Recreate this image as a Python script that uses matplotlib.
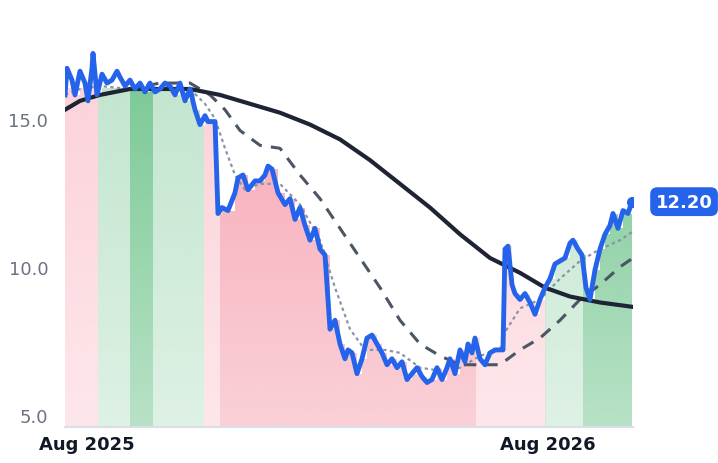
import matplotlib
matplotlib.use("Agg")
import matplotlib.pyplot as plt
import numpy as np
import pandas as pd
from matplotlib.patches import FancyBboxPatch

start = pd.Timestamp("2025-07-15")
DAYS_PER_UNIT = 0.792  # time units of the traced series

# price series (time units, value)
price_t = [0,2,7,10,15,20,23,27,28,32,37,42,47,52,55,60,65,70,75,80,85,90,95,100,105,110,115,120,125,130,135,140,143,147,150,153,157,163,170,173,178,183,190,195,200,203,207,213,220,225,230,235,240,245,250,255,260,265,270,275,280,283,287,292,297,302,307,312,317,322,327,332,337,342,347,352,357,362,367,372,377,382,385,390,395,400,403,407,410,415,420,425,430,435,438,440,443,447,450,455,460,465,470,475,480,485,490,495,500,505,508,513,517,521,525,530,535,540,545,548,553,558,563,567]
price_v = [15.8,16.7,16.3,15.8,16.6,16.2,15.6,16.7,17.2,15.8,16.5,16.2,16.3,16.6,16.4,16.1,16.3,16.0,16.2,15.9,16.2,15.9,16.0,16.2,16.1,15.8,16.2,15.6,16.0,15.3,14.8,15.1,14.9,14.9,14.9,11.8,12.0,11.9,12.5,13.0,13.1,12.6,12.9,12.9,13.1,13.4,13.3,12.5,12.1,12.3,11.6,12.0,11.4,10.9,11.3,10.6,10.4,7.9,8.2,7.4,6.9,7.2,7.1,6.4,6.9,7.6,7.7,7.4,7.1,6.7,6.9,6.6,6.8,6.2,6.4,6.6,6.3,6.1,6.2,6.6,6.2,6.6,6.9,6.4,7.2,6.8,7.4,7.1,7.6,6.9,6.7,7.1,7.2,7.2,7.2,10.6,10.7,9.4,9.1,8.9,9.1,8.8,8.4,8.9,9.3,9.6,10.1,10.2,10.3,10.8,10.9,10.6,10.4,9.3,8.9,9.9,10.6,11.1,11.4,11.8,11.3,11.9,11.8,12.2]

ma_long_t = [0,15,35,65,95,125,155,185,215,245,275,305,335,365,395,425,455,480,505,535,568]
ma_long_v = [15.3,15.6,15.8,16.0,16.0,16.0,15.8,15.5,15.2,14.8,14.3,13.6,12.8,12.0,11.1,10.3,9.8,9.3,9.0,8.8,8.65]
ma_mid_t = [0,15,35,65,95,125,145,160,175,195,215,235,255,275,295,315,335,355,375,395,415,435,455,475,495,515,535,555,568]
ma_mid_v = [15.3,15.6,15.8,16.0,16.2,16.2,15.8,15.3,14.6,14.1,14.0,13.1,12.3,11.3,10.3,9.3,8.2,7.4,7.0,6.7,6.7,6.7,7.2,7.6,8.2,8.9,9.4,10.0,10.3]
ma_short_t = [0,15,35,65,95,125,140,150,160,170,180,195,215,235,255,270,285,300,320,335,355,375,395,415,435,440,455,475,495,515,535,555,568]
ma_short_v = [15.8,16.0,16.1,16.0,16.0,16.0,15.5,15.0,14.0,13.1,12.6,12.8,12.8,12.1,10.9,9.3,7.9,7.2,7.2,7.1,6.6,6.5,6.6,7.0,7.2,7.8,8.6,8.9,9.6,10.2,10.6,10.9,11.2]

# regime bands: (start, end, kind)
band_edges = [0,33,65,88,139,155,411,480,518,568]
band_kinds = ["bear_weak","bull_weak","bull_strong","bull_weak","bear_weak","bear_strong","bear_weak","bull_weak","bull_strong"]
band_colors = {"bear_weak":"#fcd3da","bear_strong":"#f7aab7","bull_weak":"#c3e6cf","bull_strong":"#7dca97"}

yticks = [5.0, 10.0, 15.0]
last_label = "12.20"

def to_date(t):
    return start + pd.to_timedelta(np.asarray(t, float) * DAYS_PER_UNIT, unit="D")

fig = plt.figure(figsize=(7.18, 4.64), dpi=100)
ax = fig.add_axes([65/718, 36/464, 568/718, 424/464])
ymin, ymax = 4.6, 18.9
pt = to_date(price_t)
pv = np.array(price_v)

# band fills with vertical gradient
grad = np.linspace(0, 1, 256).reshape(-1, 1)
for i, k in enumerate(band_kinds):
    t0, t1 = band_edges[i], band_edges[i+1]
    m = [(a >= t0 - 3 and a <= t1 + 3) for a in price_t]
    d0, d1 = to_date([t0, t1])
    col = matplotlib.colors.to_rgb(band_colors[k])
    poly = ax.fill_between(pt, ymin, pv, step="post", color="none", lw=0)
    img = np.zeros((256, 1, 4))
    img[..., :3] = col
    img[..., 3] = (0.55 + 0.45 * grad)[:, :]
    im = ax.imshow(img, aspect="auto", origin="lower",
                   extent=[matplotlib.dates.date2num(d0), matplotlib.dates.date2num(d1), ymin, 16.0],
                   zorder=1)
    im.set_clip_path(poly.get_paths()[0], transform=ax.transData)
    poly.remove()
    # clip also by band rectangle done via extent

ax.plot(to_date(ma_short_t), ma_short_v, color="#8a94a6", lw=1.6, ls=(0, (1.5, 1.5)), zorder=3)
ax.plot(to_date(ma_mid_t), ma_mid_v, color="#4b5563", lw=2.2, ls=(0, (4, 3)), zorder=3)
ax.plot(to_date(ma_long_t), ma_long_v, color="#1e2433", lw=3, zorder=3)
ax.plot(pt, pv, color="#2563eb", lw=3.5, zorder=4, solid_joinstyle="round")
ax.plot(pt[-1:], pv[-1:], "o", color="#2563eb", ms=7, zorder=5)

ax.set_ylim(ymin, ymax)
ax.set_xlim(to_date([0])[0], to_date([568])[0])
ax.set_yticks(yticks)
ax.set_yticklabels([f"{v:.1f}" for v in yticks], color="#6b7280", fontsize=13)
xt = [pd.Timestamp("2025-08-01"), pd.Timestamp("2026-08-01")]
ax.set_xticks(xt)
ax.set_xticklabels(["Aug 2025", "Aug 2026"], fontsize=13, fontweight="bold", color="#111827")
ax.tick_params(length=0, pad=6)
ax.tick_params(axis="y", pad=12)
for s in ["top", "right", "left"]:
    ax.spines[s].set_visible(False)
ax.spines["bottom"].set_color("#d9dee7")
ax.spines["bottom"].set_linewidth(1.5)

ax.annotate(last_label, xy=(pt[-1], pv[-1]), xytext=(17, 0), textcoords="offset points",
            ha="left", va="center", color="white", fontsize=13, fontweight="bold",
            bbox=dict(boxstyle="round,pad=0.3,rounding_size=0.4", fc="#2563eb", ec="none"),
            annotation_clip=False)
fig.savefig("out.png", dpi=100)
